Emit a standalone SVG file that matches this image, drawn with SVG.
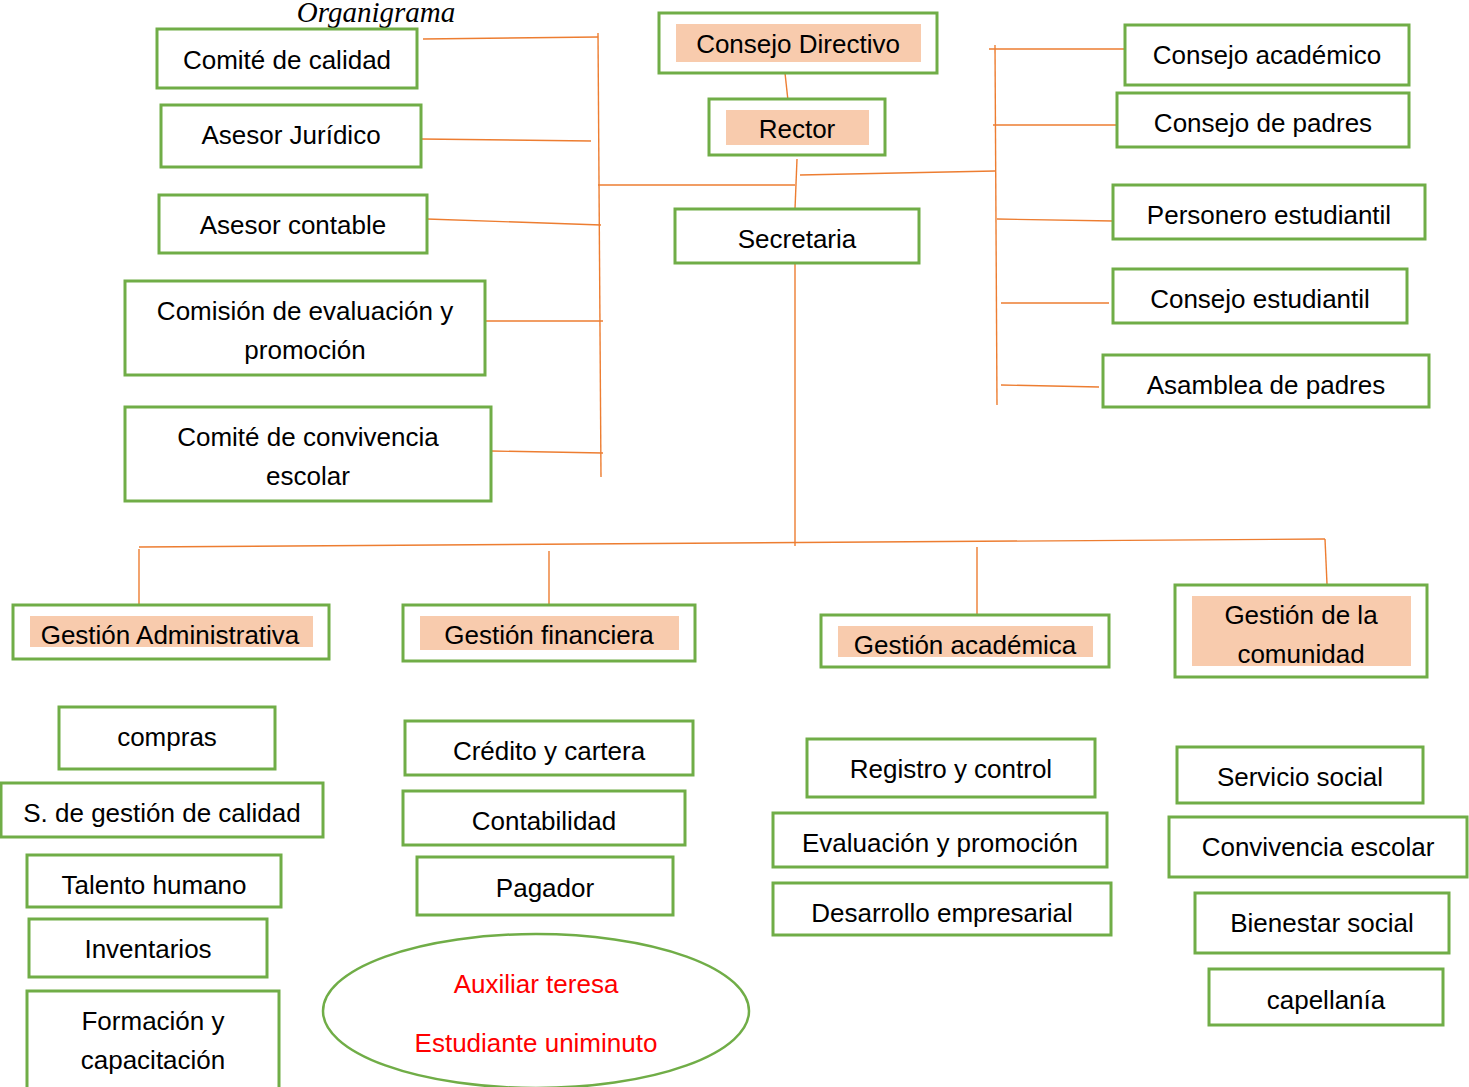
<svg xmlns="http://www.w3.org/2000/svg" width="1469" height="1087" viewBox="0 0 1469 1087">
<defs>
<style>
.b{fill:#fff;stroke:#70AD47;stroke-width:3}
.f{fill:#F8CBAD;stroke:none}
.t{font-family:"Liberation Sans",Arial,sans-serif;font-size:26px;fill:#000;text-anchor:middle}
.r{fill:#FF0000}
.c{stroke:#ED7D31;stroke-width:1.4;fill:none}
.title{font-family:"Liberation Serif","Times New Roman",serif;font-style:italic;font-size:29px;fill:#000;text-anchor:middle}
</style>
</defs>
<rect width="1469" height="1087" fill="#fff"/>
<text class="title" x="376" y="22">Organigrama</text>

<g id="connectors">
<line class="c" x1="598" y1="33" x2="601" y2="477"/>
<line class="c" x1="423" y1="39" x2="598" y2="37"/>
<line class="c" x1="421" y1="139" x2="591" y2="141"/>
<line class="c" x1="427" y1="219" x2="601" y2="225"/>
<line class="c" x1="485" y1="321" x2="603" y2="321"/>
<line class="c" x1="491" y1="451" x2="603" y2="453"/>
<line class="c" x1="598" y1="185" x2="795" y2="185"/>
<line class="c" x1="785" y1="73" x2="789" y2="110"/>
<line class="c" x1="797" y1="159" x2="795" y2="209"/>
<line class="c" x1="800" y1="175" x2="995" y2="171"/>
<line class="c" x1="795" y1="264" x2="795" y2="546"/>
<line class="c" x1="139" y1="547" x2="1325" y2="539"/>
<line class="c" x1="139" y1="549" x2="139" y2="613"/>
<line class="c" x1="549" y1="551" x2="549" y2="611"/>
<line class="c" x1="977" y1="547" x2="977" y2="614"/>
<line class="c" x1="1325" y1="539" x2="1327" y2="584"/>
<line class="c" x1="995" y1="45" x2="997" y2="405"/>
<line class="c" x1="989" y1="49" x2="1129" y2="49"/>
<line class="c" x1="993" y1="125" x2="1119" y2="125"/>
<line class="c" x1="997" y1="219" x2="1113" y2="221"/>
<line class="c" x1="1001" y1="303" x2="1109" y2="303"/>
<line class="c" x1="1001" y1="385" x2="1099" y2="387"/>
</g>

<g id="comite-calidad"><rect class="b" x="157" y="29" width="260" height="59"/><text class="t" x="287" y="69">Comité de calidad</text></g>
<g id="asesor-juridico"><rect class="b" x="161" y="105" width="260" height="62"/><text class="t" x="291" y="144">Asesor Jurídico</text></g>
<g id="asesor-contable"><rect class="b" x="159" y="195" width="268" height="58"/><text class="t" x="293" y="234">Asesor contable</text></g>
<g id="comision-evaluacion"><rect class="b" x="125" y="281" width="360" height="94"/><text class="t" x="305" y="320">Comisión de evaluación y</text><text class="t" x="305" y="359">promoción</text></g>
<g id="comite-convivencia"><rect class="b" x="125" y="407" width="366" height="94"/><text class="t" x="308" y="446">Comité de convivencia</text><text class="t" x="308" y="485">escolar</text></g>

<g id="consejo-directivo"><rect class="b" x="659" y="13" width="278" height="60"/><rect class="f" x="676" y="24" width="245" height="38"/><text class="t" x="798" y="53">Consejo Directivo</text></g>
<g id="rector"><rect class="b" x="709" y="99" width="176" height="56"/><rect class="f" x="726" y="110" width="143" height="35"/><text class="t" x="797" y="138">Rector</text></g>
<g id="secretaria"><rect class="b" x="675" y="209" width="244" height="54"/><text class="t" x="797" y="248">Secretaria</text></g>

<g id="consejo-academico"><rect class="b" x="1125" y="25" width="284" height="60"/><text class="t" x="1267" y="64">Consejo académico</text></g>
<g id="consejo-padres"><rect class="b" x="1117" y="93" width="292" height="54"/><text class="t" x="1263" y="132">Consejo de padres</text></g>
<g id="personero"><rect class="b" x="1113" y="185" width="312" height="54"/><text class="t" x="1269" y="224">Personero estudiantil</text></g>
<g id="consejo-estudiantil"><rect class="b" x="1113" y="269" width="294" height="54"/><text class="t" x="1260" y="308">Consejo estudiantil</text></g>
<g id="asamblea-padres"><rect class="b" x="1103" y="355" width="326" height="52"/><text class="t" x="1266" y="394">Asamblea de padres</text></g>

<g id="gestion-administrativa"><rect class="b" x="13" y="605" width="316" height="54"/><rect class="f" x="30" y="616" width="283" height="31"/><text class="t" x="170" y="644">Gestión Administrativa</text></g>
<g id="gestion-financiera"><rect class="b" x="403" y="605" width="292" height="56"/><rect class="f" x="420" y="616" width="259" height="34"/><text class="t" x="549" y="644">Gestión financiera</text></g>
<g id="gestion-academica"><rect class="b" x="821" y="615" width="288" height="52"/><rect class="f" x="838" y="626" width="255" height="31"/><text class="t" x="965" y="654">Gestión académica</text></g>
<g id="gestion-comunidad"><rect class="b" x="1175" y="585" width="252" height="92"/><rect class="f" x="1192" y="596" width="219" height="70"/><text class="t" x="1301" y="624">Gestión de la</text><text class="t" x="1301" y="663">comunidad</text></g>

<g id="compras"><rect class="b" x="59" y="707" width="216" height="62"/><text class="t" x="167" y="746">compras</text></g>
<g id="sgc"><rect class="b" x="1" y="783" width="322" height="54"/><text class="t" x="162" y="822">S. de gestión de calidad</text></g>
<g id="talento-humano"><rect class="b" x="27" y="855" width="254" height="52"/><text class="t" x="154" y="894">Talento humano</text></g>
<g id="inventarios"><rect class="b" x="29" y="919" width="238" height="58"/><text class="t" x="148" y="958">Inventarios</text></g>
<g id="formacion"><rect class="b" x="27" y="991" width="252" height="100"/><text class="t" x="153" y="1030">Formación y</text><text class="t" x="153" y="1069">capacitación</text></g>

<g id="credito"><rect class="b" x="405" y="721" width="288" height="54"/><text class="t" x="549" y="760">Crédito y cartera</text></g>
<g id="contabilidad"><rect class="b" x="403" y="791" width="282" height="54"/><text class="t" x="544" y="830">Contabilidad</text></g>
<g id="pagador"><rect class="b" x="417" y="857" width="256" height="58"/><text class="t" x="545" y="897">Pagador</text></g>
<g id="auxiliar"><ellipse cx="536" cy="1011" rx="213" ry="77" fill="#fff" stroke="#70AD47" stroke-width="2.5"/><text class="t r" x="536" y="993">Auxiliar teresa</text><text class="t r" x="536" y="1052">Estudiante uniminuto</text></g>

<g id="registro"><rect class="b" x="807" y="739" width="288" height="58"/><text class="t" x="951" y="778">Registro y control</text></g>
<g id="evaluacion"><rect class="b" x="773" y="813" width="334" height="54"/><text class="t" x="940" y="852">Evaluación y promoción</text></g>
<g id="desarrollo"><rect class="b" x="773" y="883" width="338" height="52"/><text class="t" x="942" y="922">Desarrollo empresarial</text></g>

<g id="servicio-social"><rect class="b" x="1177" y="747" width="246" height="56"/><text class="t" x="1300" y="786">Servicio social</text></g>
<g id="convivencia-escolar"><rect class="b" x="1169" y="817" width="298" height="60"/><text class="t" x="1318" y="856">Convivencia escolar</text></g>
<g id="bienestar-social"><rect class="b" x="1195" y="893" width="254" height="60"/><text class="t" x="1322" y="932">Bienestar social</text></g>
<g id="capellania"><rect class="b" x="1209" y="969" width="234" height="56"/><text class="t" x="1326" y="1009">capellanía</text></g>
</svg>
